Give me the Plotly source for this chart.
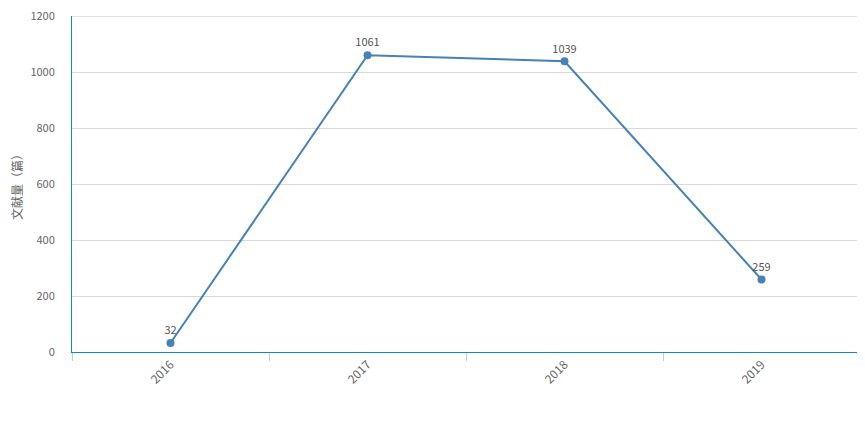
import plotly.graph_objects as go

years = ["2016", "2017", "2018", "2019"]
counts = [32, 1061, 1039, 259]
y_ticks = [0, 200, 400, 600, 800, 1000, 1200]

# page body has an 8px default margin; the figure is sized so it fills the window
fig = go.Figure()
fig.add_trace(go.Scatter(
    x=years, y=counts, mode="lines+markers+text",
    text=[str(v) for v in counts], textposition="top center",
    textfont=dict(size=11, color="#555555"),
    line=dict(color="#4682b4", width=2),
    marker=dict(color="#4682b4", size=8),
    cliponaxis=False, hoverinfo="x+y",
))
# top grid line at the last tick (plotly drops grid lines on the range edge)
fig.add_shape(type="line", xref="paper", yref="y", x0=0, x1=1,
              y0=y_ticks[-1], y1=y_ticks[-1],
              line=dict(color="#d9d9d9", width=1), layer="below")
fig.update_layout(
    width=857, height=413,
    margin=dict(l=64, r=5, t=8, b=69, autoexpand=False),
    paper_bgcolor="white", plot_bgcolor="white",
    font=dict(family="Noto Sans CJK SC, Noto Sans, sans-serif", size=11, color="#666666"),
    showlegend=False,
)
fig.update_xaxes(
    type="category", range=[-0.5, 3.5], tickson="boundaries", automargin=False,
    showline=True, linecolor="#0a8ad0", linewidth=1,
    ticks="outside", ticklen=8, tickcolor="#c0ccda", tickwidth=1,
    tickangle=-45, tickfont=dict(size=12, color="#666666"),
    showgrid=False, zeroline=False,
)
fig.update_yaxes(
    range=[0, 1201], tickvals=y_ticks, automargin=False, ticklabeloverflow="allow",
    showline=True, linecolor="#0a8ad0", linewidth=1,
    gridcolor="#d9d9d9", gridwidth=1, zeroline=False,
    ticks="", ticklabelstandoff=14, tickfont=dict(size=11, color="#666666"),
    title=dict(text="文献量（篇）", font=dict(size=12, color="#666666"), standoff=14),
)
fig.write_html("out.html")
